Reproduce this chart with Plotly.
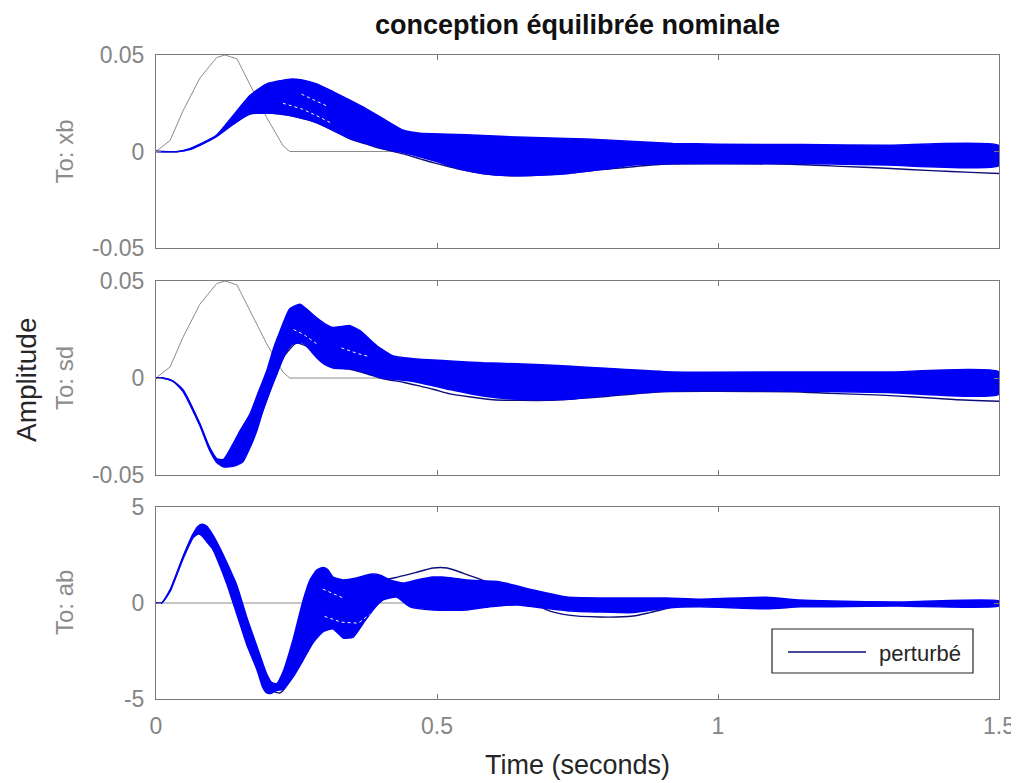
import plotly.graph_objects as go

# ---------------- data ----------------
# grey reference bump (panels xb and sd), zero line for ab
t_ref = [0, 0.025, 0.048, 0.078, 0.108, 0.123, 0.144, 0.167, 0.197, 0.226, 0.238, 1.5]
ref_bump = [0, 0.0057, 0.021, 0.038, 0.0487, 0.05, 0.048, 0.035, 0.0176, 0.003, 0, 0]
t_ref_ab = [0, 1.5]
ref_ab = [0, 0]

# --- To: xb ---
t_xb_up = [0, 0.04, 0.06, 0.08, 0.108, 0.137, 0.167, 0.197, 0.238, 0.26, 0.286, 0.315,
           0.345, 0.375, 0.404, 0.44, 0.47, 0.52, 0.582, 0.642, 0.731, 0.8, 0.92, 1.0,
           1.15, 1.3, 1.5]
xb_up = [0, 0, 0.0015, 0.004, 0.0085, 0.0185, 0.029, 0.035, 0.0375, 0.037, 0.035, 0.031,
         0.0266, 0.022, 0.017, 0.011, 0.0095, 0.009, 0.0083, 0.0075, 0.0068, 0.006, 0.0042,
         0.0038, 0.0036, 0.0032, 0.003]
t_xb_lo = [0, 0.04, 0.06, 0.08, 0.108, 0.137, 0.167, 0.197, 0.22, 0.25, 0.286, 0.315,
           0.345, 0.375, 0.404, 0.44, 0.493, 0.54, 0.582, 0.642, 0.7, 0.731, 0.8, 0.85,
           0.92, 1.0, 1.15, 1.3, 1.5]
xb_lo = [0, 0, 0.001, 0.0035, 0.0078, 0.014, 0.0195, 0.020, 0.0195, 0.018, 0.015, 0.011,
         0.0068, 0.004, 0.0016, -0.0005, -0.0047, -0.009, -0.0115, -0.0125, -0.012, -0.0115,
         -0.009, -0.007, -0.0062, -0.0062, -0.0062, -0.007, -0.0073]
t_xb_nom = [0, 0.04, 0.06, 0.08, 0.108, 0.137, 0.167, 0.197, 0.22, 0.25, 0.286, 0.315,
            0.345, 0.375, 0.404, 0.44, 0.47, 0.493, 0.52, 0.55, 0.58, 0.62, 0.7, 0.8,
            0.9, 1.0, 1.13, 1.22, 1.3, 1.38, 1.45, 1.5]
xb_nom = [0, 0, 0.0012, 0.0037, 0.008, 0.0142, 0.0194, 0.0199, 0.0194, 0.0179, 0.0149,
          0.0109, 0.0066, 0.0038, 0.0012, -0.0012, -0.0038, -0.0058, -0.0078, -0.0098,
          -0.0113, -0.0125, -0.012, -0.0092, -0.0066, -0.0064, -0.0066, -0.0077, -0.0087,
          -0.0099, -0.0108, -0.0114]
t_xb_gap1 = [0.226, 0.26, 0.29, 0.313]
xb_gap1 = [0.025, 0.022, 0.018, 0.0145]
t_xb_gap2 = [0.259, 0.28, 0.306]
xb_gap2 = [0.0297, 0.027, 0.0233]

# --- To: sd ---
t_sd_up = [0, 0.012, 0.03, 0.048, 0.078, 0.095, 0.108, 0.12, 0.137, 0.15, 0.167, 0.18,
           0.197, 0.21, 0.221, 0.238, 0.256, 0.27, 0.286, 0.3, 0.315, 0.33, 0.345, 0.363,
           0.38, 0.393, 0.422, 0.464, 0.523, 0.582, 0.642, 0.731, 0.8, 0.92, 1.13, 1.3, 1.5]
sd_up = [0, 0, -0.0015, -0.006, -0.0235, -0.0355, -0.0415, -0.042, -0.034, -0.027, -0.0187,
         -0.009, 0.0036, 0.016, 0.0244, 0.0357, 0.038, 0.035, 0.031, 0.028, 0.026, 0.0265,
         0.027, 0.0244, 0.020, 0.0166, 0.0114, 0.0098, 0.0088, 0.0078, 0.0073, 0.0062, 0.005,
         0.0031, 0.0031, 0.0031, 0.0031]
t_sd_lo = [0, 0.012, 0.03, 0.048, 0.078, 0.095, 0.108, 0.12, 0.13, 0.143, 0.155, 0.167,
           0.179, 0.19, 0.203, 0.215, 0.226, 0.235, 0.244, 0.262, 0.286, 0.3, 0.315, 0.345,
           0.375, 0.404, 0.452, 0.493, 0.523, 0.582, 0.642, 0.731, 0.8, 0.92, 1.13, 1.3, 1.5]
sd_lo = [0, 0, -0.0016, -0.0068, -0.0245, -0.037, -0.0435, -0.0458, -0.0458, -0.045, -0.043,
         -0.036, -0.0275, -0.017, -0.0067, 0.002, 0.0104, 0.015, 0.0176, 0.018, 0.0104, 0.007,
         0.0052, 0.0047, 0.0026, 0.0, -0.0016, -0.004, -0.006, -0.0093, -0.011, -0.011,
         -0.009, -0.0067, -0.0067, -0.0075, -0.0083]
t_sd_nom = [0, 0.012, 0.03, 0.048, 0.078, 0.095, 0.108, 0.12, 0.13, 0.15, 0.17, 0.19, 0.21,
            0.23, 0.25, 0.27, 0.29, 0.315, 0.345, 0.375, 0.404, 0.44, 0.47, 0.493, 0.523,
            0.56, 0.6, 0.7, 0.8, 0.9, 1.0, 1.13, 1.2, 1.28, 1.35, 1.42, 1.5]
sd_nom = [0, 0, -0.0016, -0.0067, -0.024, -0.0365, -0.043, -0.0455, -0.045, -0.04, -0.032,
          -0.017, -0.001, 0.012, 0.018, 0.016, 0.01, 0.0055, 0.0045, 0.0022, -0.0004, -0.0022,
          -0.0042, -0.0058, -0.0082, -0.0098, -0.0112, -0.0115, -0.0095, -0.0071, -0.0069,
          -0.0071, -0.0079, -0.0087, -0.0098, -0.0111, -0.012]
t_sd_gap1 = [0.245, 0.265, 0.286]
sd_gap1 = [0.025, 0.022, 0.0176]
t_sd_gap2 = [0.33, 0.36, 0.38]
sd_gap2 = [0.0155, 0.0125, 0.011]

# --- To: ab ---
t_ab_up = [0, 0.01, 0.025, 0.048, 0.066, 0.075, 0.082, 0.09, 0.101, 0.113, 0.126, 0.144,
           0.162, 0.18, 0.197, 0.206, 0.215, 0.226, 0.244, 0.262, 0.274, 0.286, 0.297,
           0.305, 0.315, 0.333, 0.357, 0.381, 0.399, 0.416, 0.44, 0.464, 0.493, 0.51, 0.553,
           0.612, 0.671, 0.731, 0.79, 0.85, 0.909, 0.968, 1.087, 1.146, 1.205, 1.32, 1.5]
ab_up = [0, 0, 0.68, 2.4, 3.6, 4.0, 4.1, 4.0, 3.55, 2.9, 2.1, 0.9, -0.8, -2.3, -3.7,
         -4.15, -4.2, -3.6, -1.9, 0.16, 1.2, 1.72, 1.85, 1.75, 1.35, 1.2, 1.3, 1.5, 1.45, 1.2,
         1.04, 1.2, 1.35, 1.35, 1.2, 1.1, 0.68, 0.31, 0.26, 0.26, 0.26, 0.2, 0.3, 0.15, 0.1,
         0.05, 0.1]
t_ab_lo = [0, 0.01, 0.025, 0.048, 0.066, 0.075, 0.082, 0.09, 0.101, 0.113, 0.126, 0.144,
           0.162, 0.18, 0.19, 0.197, 0.205, 0.215, 0.226, 0.244, 0.262, 0.279, 0.297, 0.315,
           0.333, 0.351, 0.369, 0.386, 0.404, 0.428, 0.452, 0.493, 0.553, 0.594, 0.642,
           0.671, 0.731, 0.79, 0.85, 0.909, 0.968, 1.087, 1.146, 1.205, 1.32, 1.5]
ab_lo = [0, 0, 0.6, 2.3, 3.4, 3.6, 3.5, 3.2, 2.8, 2.0, 1.0, -0.6, -2.2, -3.5, -4.4,
         -4.68, -4.7, -4.55, -4.5, -3.85, -2.96, -2.08, -1.5, -1.35, -1.82, -1.77, -1.04,
         -0.36, 0.16, 0.31, -0.2, -0.36, -0.36, -0.2, -0.1, -0.2, -0.4, -0.47, -0.5, -0.26,
         -0.2, -0.3, -0.2, -0.2, -0.15, -0.16]
t_ab_nom = [0, 0.01, 0.025, 0.048, 0.066, 0.078, 0.09, 0.101, 0.126, 0.144, 0.162, 0.18,
            0.197, 0.21, 0.221, 0.238, 0.25, 0.262, 0.28, 0.3, 0.33, 0.36, 0.38, 0.404,
            0.43, 0.464, 0.493, 0.518, 0.546, 0.58, 0.62, 0.66, 0.695, 0.731, 0.79, 0.849,
            0.879, 0.938, 0.98, 1.5]
ab_nom = [0, 0, 0.65, 2.4, 3.55, 3.9, 3.7, 3.1, 1.5, 0.1, -1.5, -3.0, -4.2, -4.6, -4.68,
          -4.05, -3.3, -2.3, -0.8, 0.9, 1.0, 1.1, 1.3, 1.2, 1.35, 1.6, 1.82, 1.82, 1.56, 1.2,
          0.7, 0.2, -0.36, -0.62, -0.73, -0.68, -0.5, -0.1, 0.0, 0.0]
t_ab_gap1 = [0.297, 0.315, 0.333]
ab_gap1 = [0.72, 0.5, 0.26]
t_ab_gap2 = [0.3, 0.33, 0.36, 0.38]
ab_gap2 = [-0.7, -1.0, -1.05, -0.6]

x_ticks = [0, 0.5, 1, 1.5]
x_tick_text = ["0", "0.5", "1", "1.5"]
y_ticks_small = [-0.05, 0, 0.05]
y_tick_text_small = ["-0.05", "0", "0.05"]
y_ticks_ab = [-5, 0, 5]
y_tick_text_ab = ["-5", "0", "5"]
channel_names = ["To: xb", "To: sd", "To: ab"]
legend_label = "perturbé"

# ---------------- styles ----------------
BLUE = "#0000f5"
NAVY = "#0c0c7a"
GREY = "#8c8c8c"
FRAME = "#7a7a7a"
FONT = "Liberation Sans, Arial, sans-serif"

fig = go.Figure()

panels = [
    ("y", t_ref, ref_bump, t_xb_up, xb_up, t_xb_lo, xb_lo, t_xb_nom, xb_nom,
     [(t_xb_gap1, xb_gap1), (t_xb_gap2, xb_gap2)]),
    ("y2", t_ref, ref_bump, t_sd_up, sd_up, t_sd_lo, sd_lo, t_sd_nom, sd_nom,
     [(t_sd_gap1, sd_gap1), (t_sd_gap2, sd_gap2)]),
    ("y3", t_ref_ab, ref_ab, t_ab_up, ab_up, t_ab_lo, ab_lo, t_ab_nom, ab_nom,
     [(t_ab_gap1, ab_gap1), (t_ab_gap2, ab_gap2)]),
]

for i, (yax, tr, yr, tu, yu, tl, yl, tn, yn, gaps) in enumerate(panels):
    xax = "x" if i == 0 else f"x{i+1}"
    fig.add_trace(go.Scatter(x=tr, y=yr, mode="lines", line=dict(color=GREY, width=1),
                             xaxis=xax, yaxis=yax, showlegend=False, hoverinfo="skip"))
    fig.add_trace(go.Scatter(x=tn, y=yn, mode="lines", line=dict(color=NAVY, width=1.4, shape="spline", smoothing=0.6),
                             xaxis=xax, yaxis=yax, showlegend=False, name=legend_label))
    fig.add_trace(go.Scatter(x=list(tu) + list(tl)[::-1], y=list(yu) + list(yl)[::-1],
                             mode="lines", fill="toself", fillcolor=BLUE,
                             line=dict(color=BLUE, width=1.5, shape="spline", smoothing=0.5),
                             xaxis=xax, yaxis=yax, showlegend=False, hoverinfo="skip"))
    for tg, yg in gaps:
        fig.add_trace(go.Scatter(x=tg, y=yg, mode="lines", line=dict(color="white", width=1, dash="dot"),
                                 xaxis=xax, yaxis=yax, showlegend=False, hoverinfo="skip"))

# the page body keeps an 8px margin: the figure sits at (8, 8) and runs to the window's edges
W, H = 1011, 775
L, T = 148, 47
R = W - (999 - 8)
B = H - (699 - 8)
ph = H - T - B
pw = W - L - R
def py(px):          # reference-window pixel row -> paper y
    return (699 - px) / ph
def pxx(px):         # reference-window pixel column -> paper x
    return (px - 156) / pw

domains = [[py(248), py(55)], [py(475), py(281)], [0, py(507)]]

axis_common = dict(showline=True, mirror="ticks", linecolor=FRAME, linewidth=1,
                   ticks="inside", ticklen=5, tickcolor=FRAME, showgrid=False,
                   zeroline=False, automargin=False,
                   tickfont=dict(family=FONT, size=23, color="#858585"))

layout = dict(width=W, height=H, margin=dict(l=L, r=R, t=T, b=B, autoexpand=False),
              paper_bgcolor="white", plot_bgcolor="white", showlegend=False)
for i in range(3):
    xk = "xaxis" if i == 0 else f"xaxis{i+1}"
    yk = "yaxis" if i == 0 else f"yaxis{i+1}"
    ya = "y" if i == 0 else f"y{i+1}"
    xa = "x" if i == 0 else f"x{i+1}"
    layout[xk] = dict(axis_common, range=[0, 1.5], domain=[0, 1], anchor=ya,
                      tickvals=x_ticks, ticktext=x_tick_text, showticklabels=(i == 2),
                      ticklabelstandoff=6, ticklabeloverflow="allow")
    if i == 2:
        layout[yk] = dict(axis_common, range=[-5, 5], domain=domains[i], anchor=xa,
                          tickvals=y_ticks_ab, ticktext=y_tick_text_ab, ticklabelstandoff=6)
    else:
        layout[yk] = dict(axis_common, range=[-0.05, 0.05], domain=domains[i], anchor=xa,
                          tickvals=y_ticks_small, ticktext=y_tick_text_small, ticklabelstandoff=6)
fig.update_layout(**layout)

ann = []
ann.append(dict(text="<b>conception équilibrée nominale</b>", x=0.5, y=py(25), xref="paper", yref="paper",
                showarrow=False, font=dict(family=FONT, size=27, color="#111111"),
                xanchor="center", yanchor="middle"))
ann.append(dict(text="Time (seconds)", x=0.5, y=py(765), xref="paper", yref="paper",
                showarrow=False, font=dict(family=FONT, size=27, color="#262626"),
                xanchor="center", yanchor="middle"))
ann.append(dict(text="Amplitude", x=pxx(27), y=py(380), xref="paper", yref="paper",
                showarrow=False, textangle=-90, font=dict(family=FONT, size=28, color="#262626"),
                xanchor="center", yanchor="middle"))
for name, cy in zip(channel_names, [151.5, 378, 603]):
    ann.append(dict(text=name, x=pxx(64), y=py(cy), xref="paper", yref="paper",
                    showarrow=False, textangle=-90, font=dict(family=FONT, size=24, color="#8c8c8c"),
                    xanchor="center", yanchor="middle"))
# legend box
ann.append(dict(text=legend_label, x=pxx(877), y=py(653), xref="paper", yref="paper",
                showarrow=False, font=dict(family=FONT, size=22, color="#262626"),
                xanchor="left", yanchor="middle"))
fig.update_layout(annotations=ann)
fig.add_shape(type="rect", xref="paper", yref="paper", x0=pxx(772), x1=pxx(973),
              y0=py(673), y1=py(629), line=dict(color="#262626", width=1.2), fillcolor="white")
fig.add_shape(type="line", xref="paper", yref="paper", x0=pxx(788), x1=pxx(866),
              y0=py(652), y1=py(652), line=dict(color=NAVY, width=1.5))

fig.write_html("out.html")
